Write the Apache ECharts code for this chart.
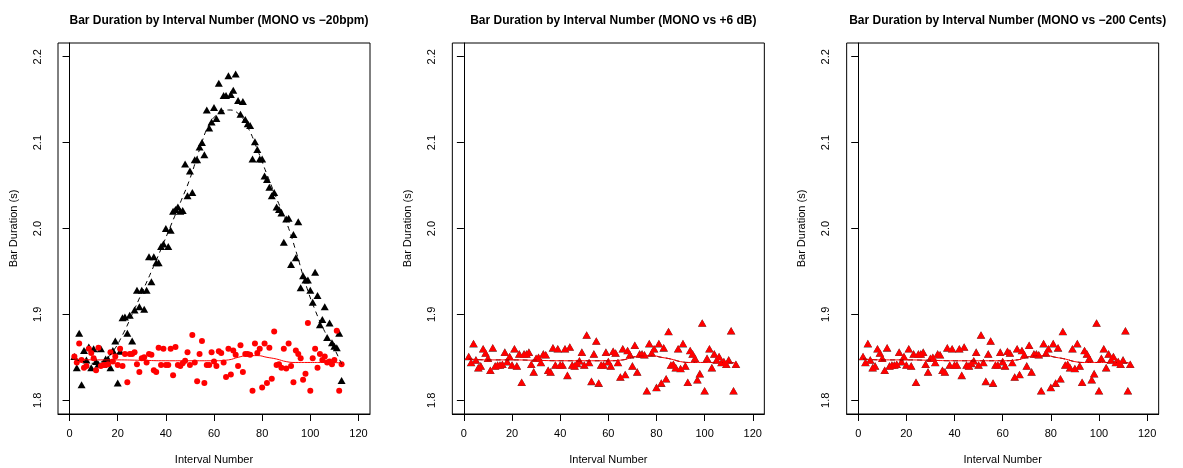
<!DOCTYPE html>
<html>
<head>
<meta charset="utf-8">
<script src="https://cdn.jsdelivr.net/npm/echarts@6/dist/echarts.min.js"></script>
<style>
  html, body { margin: 0; padding: 0; background: #fff; }
  #main { width: 1183px; height: 468px; }
</style>
</head>
<body>
<div id="main"></div>
<script>
// interval numbers (x)
var intervals = [2,3,4,5,6,7,8,9,10,11,12,13,14,15,16,17,18,19,20,21,22,23,24,25,26,27,28,29,30,
  31,32,33,34,35,36,37,38,39,40,41,42,43,44,45,46,47,48,49,50,51,52,53,54,55,56,57,58,59,60,
  61,62,63,64,65,66,67,68,69,70,71,72,73,74,75,76,77,78,79,80,81,82,83,84,85,86,87,88,89,90,
  91,92,93,94,95,96,97,98,99,100,101,102,103,104,105,106,107,108,109,110,111,112,113];

// MONO bar durations (red)
var monoValues = [1.851,1.844,1.866,1.847,1.838,1.840,1.860,1.855,1.849,1.835,1.861,1.840,1.841,1.841,1.842,
  1.856,1.845,1.851,1.841,1.860,1.840,1.854,1.821,1.854,1.854,1.856,1.842,1.833,1.849,1.850,
  1.844,1.854,1.853,1.835,1.833,1.861,1.841,1.860,1.841,1.841,1.860,1.829,1.862,1.841,1.840,
  1.843,1.846,1.856,1.841,1.876,1.844,1.822,1.854,1.869,1.820,1.841,1.841,1.856,1.845,1.840,
  1.857,1.855,1.844,1.827,1.860,1.830,1.858,1.853,1.840,1.864,1.833,1.854,1.854,1.853,1.811,
  1.866,1.855,1.860,1.815,1.866,1.820,1.861,1.825,1.880,1.841,1.842,1.838,1.860,1.837,1.866,
  1.840,1.821,1.858,1.854,1.849,1.824,1.831,1.890,1.811,1.849,1.860,1.838,1.854,1.847,1.851,
  1.844,1.845,1.842,1.847,1.881,1.811,1.842];

// -20bpm bar durations (black)
var bpmValues = [1.851,1.838,1.878,1.818,1.858,1.847,1.862,1.838,1.860,1.845,1.842,1.860,1.842,1.848,1.848,
  1.838,1.858,1.869,1.820,1.857,1.896,1.897,1.878,1.899,1.869,1.905,1.928,1.909,1.928,1.906,
  1.928,1.967,1.938,1.967,1.960,1.960,1.979,1.982,2.000,1.979,1.998,2.020,2.022,2.025,2.020,
  2.021,2.075,2.038,2.067,2.042,2.080,2.080,2.095,2.100,2.086,2.138,2.117,2.124,2.141,2.128,
  2.169,2.137,2.155,2.155,2.178,2.156,2.161,2.180,2.149,2.133,2.148,2.127,2.122,2.120,2.081,
  2.101,2.092,2.081,2.081,2.061,2.057,2.048,2.038,2.042,2.025,2.022,2.018,1.984,2.011,2.012,
  1.958,1.993,1.966,2.008,1.931,1.945,1.940,1.940,1.928,1.914,1.949,1.922,1.888,1.894,1.909,
  1.873,1.890,1.867,1.863,1.861,1.878,1.823];

// +6 dB and -200 cents land exactly on MONO (hidden under the red marks)
var gainValues = monoValues.slice();
var centsValues = monoValues.slice();

// smoothed curves
var bpmSmoothX = [2,6,10,14,18,22,26,30,34,38,42,46,50,54,58,62,66,70,74,78,82,86,90,94,98,102,106,110,113];
var bpmSmoothY = [1.848,1.845,1.843,1.846,1.857,1.876,1.900,1.925,1.950,1.976,2.003,2.030,2.058,2.092,2.121,
  2.134,2.138,2.134,2.118,2.092,2.063,2.035,2.008,1.974,1.936,1.905,1.880,1.860,1.842];
var monoSmoothX = [2,10,20,30,40,50,60,66,70,74,78,82,86,90,94,100,106,113];
var monoSmoothY = [1.848,1.847,1.847,1.8465,1.846,1.846,1.846,1.847,1.850,1.852,1.852,1.850,1.848,1.845,
  1.844,1.844,1.844,1.8435];

var xTicks = [0,20,40,60,80,100,120];
var yTicks = [1.8,1.9,2.0,2.1,2.2];

var titles = [
  'Bar Duration by Interval Number (MONO vs \u221220bpm)',
  'Bar Duration by Interval Number (MONO vs +6 dB)',
  'Bar Duration by Interval Number (MONO vs \u2212200 Cents)'
];
var otherValues = [bpmValues, gainValues, centsValues];
var otherSmooth = [bpmSmoothY, monoSmoothY, monoSmoothY];
var otherSmoothX = [bpmSmoothX, monoSmoothX, monoSmoothX];

var FONT = 'Liberation Sans, Arial, Helvetica, sans-serif';
var panelW = 1183 / 3;

function pairs(xs, ys) {
  return xs.map(function (x, i) { return [x, ys[i]]; });
}

var grids = [], xAxes = [], yAxes = [], series = [], titleList = [];

for (var p = 0; p < 3; p++) {
  var left = 58 + p * panelW;
  grids.push({ left: left, top: 43, width: 312, height: 371, show: true,
    outerBoundsMode: 'none', containLabel: false,
    borderColor: '#000', borderWidth: 1, backgroundColor: 'transparent' });
  titleList.push({
    text: titles[p], left: left + 156, top: 10, textAlign: 'center',
    textStyle: { fontFamily: FONT, fontSize: 12, fontWeight: 'bold', color: '#000' }
  });
  xAxes.push({
    gridIndex: p, type: 'value', min: -4.8, max: 124.8,
    name: 'Interval Number', nameLocation: 'middle', nameGap: 40,
    nameTextStyle: { fontFamily: FONT, fontSize: 11, color: '#000' },
    axisLine: { show: true, lineStyle: { color: '#000' } },
    axisTick: { show: true, length: 7, customValues: xTicks, lineStyle: { color: '#000' } },
    axisLabel: { customValues: xTicks, margin: 14, fontFamily: FONT, fontSize: 11, color: '#000' },
    splitLine: { show: false }
  });
  yAxes.push({
    gridIndex: p, type: 'value', min: 1.784, max: 2.216,
    name: 'Bar Duration (s)', nameLocation: 'middle', nameGap: 39,
    nameTextStyle: { fontFamily: FONT, fontSize: 11, color: '#000' },
    axisLine: { show: true, lineStyle: { color: '#000' } },
    axisTick: { show: true, length: 7, customValues: yTicks, lineStyle: { color: '#000' } },
    axisLabel: { customValues: yTicks, rotate: 90, margin: 15, fontFamily: FONT, fontSize: 11, color: '#000',
      formatter: function (v) { return v.toFixed(1); } },
    splitLine: { show: false }
  });

  // black points first
  series.push({
    type: 'scatter', xAxisIndex: p, yAxisIndex: p, symbol: 'triangle',
    symbolSize: p === 0 ? [8, 7] : [8.6, 7.6],
    itemStyle: { color: p === 0 ? '#000' : '#444', opacity: 1 },
    data: pairs(intervals, otherValues[p]), z: 2
  });
  // MONO in red on top
  series.push({
    type: 'scatter', xAxisIndex: p, yAxisIndex: p,
    symbol: p === 0 ? 'circle' : 'triangle',
    symbolSize: p === 0 ? 6 : [8, 7],
    itemStyle: { color: '#ff0000', opacity: 1 }, data: pairs(intervals, monoValues), z: 3
  });
  // smoothed lines
  series.push({
    type: 'line', xAxisIndex: p, yAxisIndex: p, smooth: true, showSymbol: false,
    lineStyle: { color: '#000', width: 1, type: [5, 4] },
    data: pairs(otherSmoothX[p], otherSmooth[p]), z: 4
  });
  series.push({
    type: 'line', xAxisIndex: p, yAxisIndex: p, smooth: true, showSymbol: false,
    lineStyle: { color: '#ff0000', width: 1 },
    data: pairs(monoSmoothX, monoSmoothY), z: 5
  });
}

var chart = echarts.init(document.getElementById('main'), null, { renderer: 'canvas' });
chart.setOption({
  animation: false,
  backgroundColor: '#fff',
  title: titleList,
  grid: grids,
  xAxis: xAxes,
  yAxis: yAxes,
  series: series
});
</script>
</body>
</html>
